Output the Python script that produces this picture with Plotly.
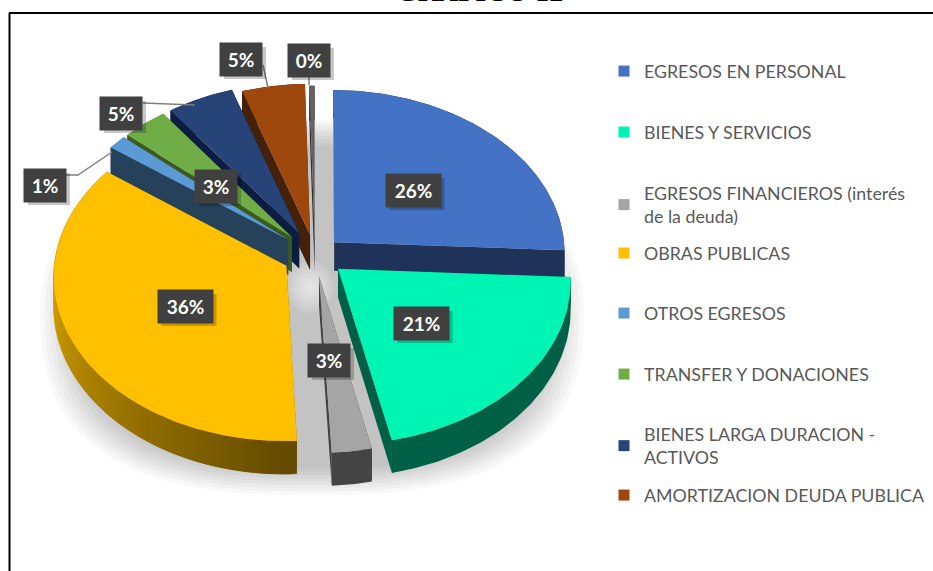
import numpy as np
import plotly.graph_objects as go

# ---- data ----
categories = ["EGRESOS EN PERSONAL", "BIENES Y SERVICIOS",
              "EGRESOS FINANCIEROS (interés<br>de la deuda)", "OBRAS PUBLICAS",
              "OTROS EGRESOS", "TRANSFER Y DONACIONES",
              "BIENES LARGA DURACION -<br>ACTIVOS", "AMORTIZACION DEUDA PUBLICA",
              "OTROS"]
values = [25.8, 20.8, 2.6, 35.9, 1.4, 3.4, 5.0, 4.7, 0.4]
colors = ["#4472C4", "#00F5B4", "#A5A5A5", "#FFC000", "#5B9BD5",
          "#70AD47", "#264478", "#9E480E", "#636363"]
wall_colors = ["#1F3257", "#006045", "#444444", "#8A6A00", "#26415A",
               "#3B5A1E", "#0B1E42", "#45200A", "#333333"]
pulls = [0.115, 0.13, 0.13, 0.14, 0.15, 0.15, 0.15, 0.125, 0.11]
title = "GRÁFICO 12"

# ---- geometry of the tilted pie ----
CX, CY, A, B, P = 315, 255, 231, 163, 0.062
SMALL = {4, 5, 6, 7, 8}


def proj(X, Y):
    s = 1 / (1 + P * np.asarray(Y))
    return CX + A * np.asarray(X) * s, CY - B * np.asarray(Y) * s


def depth(Y, i):
    Y = np.asarray(Y, dtype=float)
    if i in SMALL:
        return np.full_like(Y, 35.0)
    return 28.5 - 4 * np.minimum(Y, 0)


fig = go.Figure()


def poly(xs, ys, color, lw=0):
    fig.add_trace(go.Scatter(x=list(xs), y=list(ys), mode="lines", fill="toself",
                             fillcolor=color, line=dict(width=lw, color=color),
                             hoverinfo="skip", showlegend=False))


def mix(c1, c2, t):
    a = [int(c1[i:i + 2], 16) for i in (1, 3, 5)]
    b = [int(c2[i:i + 2], 16) for i in (1, 3, 5)]
    return "rgb(%d,%d,%d)" % tuple(round(u + (v - u) * t) for u, v in zip(a, b))


# soft shadow beneath the pie: rounder on top, squarer towards the bottom
t = np.linspace(0, 2 * np.pi, 240)
cs, sn = np.cos(t), np.sin(t)
lower = sn > 0
ux = np.where(lower, np.sign(cs) * np.abs(cs) ** 0.75, cs)
uy = np.where(lower, np.abs(sn) ** 0.75, sn)
for sc in np.linspace(0.86, 1.0, 9):
    poly(312 + 272 * sc * ux, 307 + 188 * sc * uy, "rgba(0,0,0,0.027)")
for sc in np.linspace(1.0, 0.2, 6):
    poly(310 + 24 * sc * cs, 287 + 26 * sc * sn, "rgba(255,255,255,0.13)")

# slices, from the back to the front
edges = np.cumsum([0] + values) / sum(values) * 2 * np.pi
order = [7, 6, 5, 4, 8, 0, 3, 2, 1]
for i in order:
    a0, a1 = edges[i], edges[i + 1]
    mid = (a0 + a1) / 2
    ox, oy = pulls[i] * np.sin(mid), pulls[i] * np.cos(mid)
    th = np.linspace(a0, a1, max(8, int((a1 - a0) * 60)))
    gy = oy + np.cos(th)
    rx, ry = proj(ox + np.sin(th), gy)
    ax, ay = proj(ox, oy)
    dr = depth(gy, i)
    da = float(depth(oy, i))
    # radial walls
    poly([ax, rx[0], rx[0], ax], [ay, ry[0], ry[0] + dr[0], ay + da], wall_colors[i])
    poly([ax, rx[-1], rx[-1], ax], [ay, ry[-1], ry[-1] + dr[-1], ay + da], wall_colors[i])
    # outer rim
    if i == 3:
        n = len(th) - 1
        for k in range(0, n):
            e = min(k + 3, n + 1)
            f = np.clip((th[k] - np.pi) / (np.pi / 2), 0, 1)
            col = mix("#644B00", "#D9A400", f)
            poly(np.r_[rx[k:e], rx[k:e][::-1]], np.r_[ry[k:e], (ry[k:e] + dr[k:e])[::-1]], col, 0.6)
    else:
        poly(np.r_[rx, rx[::-1]], np.r_[ry, (ry + dr)[::-1]], wall_colors[i])
    # top face
    poly(np.r_[ax, rx, ax], np.r_[ay, ry, ay], colors[i])

# leader lines
LEAD = "#7F7F7F"
for lx, ly in [((66, 78, 112), (175, 175, 152)), ((143, 195), (103, 105)),
               ((263, 268), (65, 88)), ((309, 309), (77, 85))]:
    fig.add_trace(go.Scatter(x=lx, y=ly, mode="lines", line=dict(color=LEAD, width=1.5),
                             hoverinfo="skip", showlegend=False))

# legend: one positioned legend per entry
legend_y = [71, 132, 193, 253, 313, 374, 434, 495]
layout_legends = {}
for j, (name, col, yc) in enumerate(zip(categories[:8], colors[:8], legend_y)):
    key = "legend" if j == 0 else f"legend{j + 1}"
    fig.add_trace(go.Scatter(x=[None], y=[None], mode="markers", name=name, legend=key,
                             marker=dict(symbol="square", size=11, color=col)))
    layout_legends[key] = dict(x=604 / 933, y=1 - (yc - 18) / 571, xanchor="left", yanchor="top",
                               bgcolor="rgba(0,0,0,0)", borderwidth=0,
                               font=dict(family="Lato", size=17.8, color="#595959"),
                               itemclick=False, itemdoubleclick=False, tracegroupgap=0)

# data labels
label_pos = [(413, 190), (421, 323), (329, 360), (185, 306), (45, 185),
             (216, 186), (121, 113), (241, 59), (309, 60)]
annotations = []
shapes = [dict(type="line", xref="x", yref="y", x0=9.5, x1=9.5, y0=13, y1=571,
               line=dict(color="#000000", width=2)),
          dict(type="line", xref="x", yref="y", x0=9, x1=933, y0=13, y1=13,
               line=dict(color="#000000", width=2))]
for v, (x, y) in zip(values, label_pos):
    text = f"{round(v)}%"
    w = 49 if len(text) == 3 else 36
    shapes.append(dict(type="rect", xref="x", yref="y", layer="above",
                       x0=x - w / 2 + 1, x1=x + w / 2 + 7, y0=y - 12, y1=y + 20,
                       fillcolor="rgba(0,0,0,0.22)", line=dict(width=0)))
    annotations.append(dict(x=x, y=y, xref="x", yref="y", text=f"<b>{text}</b>", showarrow=False,
                            width=w, height=27, align="center", valign="middle",
                            bgcolor="#404040", borderpad=3,
                            font=dict(family="Lato", size=19, color="#FFFFFF")))
annotations.append(dict(x=480 / 933, y=1 + 8 / 571, xref="paper", yref="paper", text=f"<b>{title}</b>",
                        showarrow=False, yanchor="middle", xanchor="center",
                        font=dict(family="Liberation Serif", size=28, color="#000000")))

fig.update_layout(width=933, height=571, margin=dict(l=0, r=0, t=0, b=0), autosize=False,
                  paper_bgcolor="#FFFFFF", plot_bgcolor="#FFFFFF", showlegend=True,
                  xaxis=dict(range=[0, 933], visible=False, fixedrange=True),
                  yaxis=dict(range=[571, 0], visible=False, fixedrange=True),
                  annotations=annotations, shapes=shapes, **layout_legends)
fig.write_html("out.html", config={"displayModeBar": False},
               post_script="document.documentElement.style.margin='0';document.body.style.margin='0';"
                           "document.body.style.overflow='hidden';")
